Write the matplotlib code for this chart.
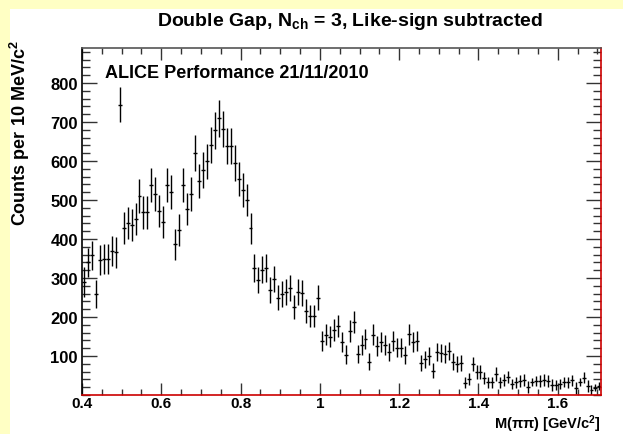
import matplotlib
matplotlib.use("Agg")
import matplotlib.pyplot as plt
import numpy as np
from matplotlib.ticker import MultipleLocator
from matplotlib.patches import Rectangle

plt.rcParams['font.family'] = ['Liberation Sans', 'DejaVu Sans']
plt.rcParams['font.weight'] = 'bold'
plt.rcParams['mathtext.fontset'] = 'custom'
plt.rcParams['mathtext.rm'] = 'Liberation Sans:bold'
plt.rcParams['mathtext.it'] = 'Liberation Sans:bold'
plt.rcParams['mathtext.bf'] = 'Liberation Sans:bold'

# 10 MeV bins from 0.40 to 1.71 GeV/c^2
bin_lo = 0.40
bin_w = 0.01

counts = [
    290, 340, 358, 258, 346, 349, 349, 369, 366,
    745,
    428, 441, 436, 451, 510, 469, 469, 538, 515, 472, 444, 538, 520, 387, 423,
    538, 477, 515, 620, 549, 577, 600, 641, 679, 710, 682, 638, 638, 595, 554,
    526, 500, 428,
    326, 295, 321, 326, 269, 297, 249, 259, 264, 274, 226, 264, 262, 215, 203,
    203, 249, 138, 154, 149, 167, 177, 136, 103, 164, 187, 105, 128, 144, 85,
    154, 126, 136, 128, 110, 138, 121, 121, 103, 156, 136, 138, 82, 92, 100,
    62, 110, 108, 105, 113,
    85, 79, 82, 31, 41, 80, 59, 59, 44, 33, 33, 54, 33, 38, 46, 28, 33, 36,
    38, 21, 33, 36, 36, 38, 36, 26, 26, 28, 33, 33, 38, 18, 33, 44, 23, 13,
    18, 23,
]

errors = [
    38, 38, 38, 36, 38, 38, 38, 39, 39,
    46,
    41, 41, 41, 41, 43, 42, 42, 44, 43, 42, 41, 44, 43, 40, 41,
    44, 42, 43, 46, 44, 45, 45, 46, 47, 47, 47, 46, 46, 45, 44,
    43, 42, 40,
    36, 34, 35, 36, 33, 34, 32, 33, 33, 33, 30, 33, 33, 30, 29,
    29, 32, 26, 27, 27, 28, 28, 26, 24, 28, 29, 24, 25, 26, 22,
    27, 25, 26, 25, 24, 26, 24, 24, 23, 27, 25, 25, 21, 22, 23,
    19, 24, 24, 23, 24,
    22, 21, 21, 14, 15, 18, 18, 18, 16, 14, 14, 17, 14, 15, 16, 13, 14, 15,
    15, 15, 11, 14, 15, 15, 15, 15, 13, 13, 13, 14, 14, 15, 11, 14, 16, 12,
    9, 11,
]

y = np.array(counts, dtype=float)
yerr = np.array(errors, dtype=float)
x = bin_lo + bin_w * (np.arange(len(y)) + 0.5)

fig = plt.figure(figsize=(6.23, 4.35), dpi=100)
fig.patch.set_facecolor('#ffffc4')
# white canvas inside the yellow frame
fig.patches.append(Rectangle((10 / 623, 0), 1, 1 - 10 / 435, transform=fig.transFigure,
                             facecolor='white', edgecolor='none', zorder=-10))

ax = fig.add_axes([82 / 623, 1 - 396 / 435, (601 - 82) / 623, (396 - 49) / 435])
ax.set_facecolor('white')

ax.errorbar(x, y, yerr=yerr, xerr=bin_w / 2, fmt='none', ecolor='black',
            elinewidth=1.0, capsize=0)

ax.set_xlim(0.4, 1.709)
ax.set_ylim(0, 890)

ax.xaxis.set_major_locator(MultipleLocator(0.2))
ax.xaxis.set_minor_locator(MultipleLocator(0.05))
ax.yaxis.set_major_locator(MultipleLocator(100))
ax.yaxis.set_minor_locator(MultipleLocator(20))
ax.set_xticks([0.4, 0.6, 0.8, 1.0, 1.2, 1.4, 1.6])
ax.set_xticklabels(['0.4', '0.6', '0.8', '1', '1.2', '1.4', '1.6'])
ax.set_yticks([100, 200, 300, 400, 500, 600, 700, 800])

ax.tick_params(axis='x', which='major', direction='in', length=8.5, width=1,
               top=True, labelsize=11, pad=1, color='#333333')
ax.tick_params(axis='x', which='minor', direction='in', length=4.3, width=1,
               top=True, color='#333333')
ax.tick_params(axis='y', which='major', direction='in', length=11, width=1,
               right=True, labelsize=12, pad=3, color='#333333')
ax.tick_params(axis='y', which='minor', direction='in', length=5.5, width=1,
               right=True, color='#333333')
for lab in ax.get_xticklabels() + ax.get_yticklabels():
    lab.set_fontweight('bold')

# frame: black on the left and top, red on the bottom and right
ax.spines['left'].set_color('black')
ax.spines['top'].set_color('#555555')
ax.spines['bottom'].set_color('#cc0000')
ax.spines['right'].set_color('#cc0000')
for s in ax.spines.values():
    s.set_linewidth(1.2)

ax.text(0.045, 0.93, 'ALICE Performance 21/11/2010', transform=ax.transAxes,
        fontsize=13, fontweight='bold', va='center', ha='left')

fig.text(350 / 623, 1 - 22 / 435, r'Double Gap, N$_{\rm ch}$ = 3, Like-sign subtracted',
         ha='center', va='center', fontsize=14, fontweight='bold')
fig.text(20 / 623, 1 - 40 / 435, r'Counts per 10 MeV/c$^{2}$', rotation=90,
         ha='center', va='top', fontsize=13, fontweight='bold')
fig.text(601 / 623, 1 - 429 / 435, r'M($\pi\pi$) [GeV/c$^{2}$]',
         ha='right', va='baseline', fontsize=10.5, fontweight='bold')

fig.savefig('out.png', dpi=100, facecolor=fig.get_facecolor())
